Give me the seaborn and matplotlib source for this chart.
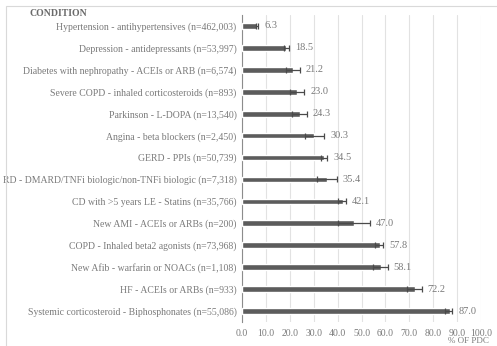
import matplotlib
matplotlib.use("Agg")
import matplotlib.pyplot as plt
from matplotlib.patches import Rectangle
import seaborn as sns
import pandas as pd
import numpy as np

conditions = [
    "Hypertension - antihypertensives (n=462,003)",
    "Depression - antidepressants (n=53,997)",
    "Diabetes with nephropathy - ACEIs or ARB (n=6,574)",
    "Severe COPD - inhaled corticosteroids (n=893)",
    "Parkinson - L-DOPA (n=13,540)",
    "Angina - beta blockers (n=2,450)",
    "GERD - PPIs (n=50,739)",
    "RD - DMARD/TNFi biologic/non-TNFi biologic (n=7,318)",
    "CD with >5 years LE - Statins (n=35,766)",
    "New AMI - ACEIs or ARBs (n=200)",
    "COPD - Inhaled beta2 agonists (n=73,968)",
    "New Afib - warfarin or NOACs (n=1,108)",
    "HF - ACEIs or ARBs (n=933)",
    "Systemic corticosteroid - Biphosphonates (n=55,086)",
]
pdc = [6.3, 18.5, 21.2, 23.0, 24.3, 30.3, 34.5, 35.4, 42.1, 47.0, 57.8, 58.1, 72.2, 87.0]
ci_low = [5.8, 17.4, 18.3, 20.0, 20.8, 26.4, 33.0, 31.3, 40.0, 40.2, 55.6, 55.0, 69.0, 85.0]
ci_high = [6.8, 19.7, 24.3, 26.0, 27.0, 34.4, 35.6, 39.6, 43.5, 53.6, 59.0, 61.0, 75.2, 88.0]
x_ticks = [0, 10, 20, 30, 40, 50, 60, 70, 80, 90, 100]

df = pd.DataFrame({"condition": conditions, "pdc": pdc})

sns.set_theme(style="white")
plt.rcParams["font.family"] = ["Liberation Serif", "DejaVu Serif"]

text_gray = "#7a7a7a"
bar_gray = "#5c5c5c"

fig = plt.figure(figsize=(4.97, 3.46), dpi=100)
ax = fig.add_axes([242 / 497, 1 - 322 / 346, (481 - 242) / 497, (322 - 15) / 346])

sns.barplot(data=df, x="pdc", y="condition", orient="h", color=bar_gray,
            saturation=1, width=0.26, ax=ax, zorder=3)

ypos = np.arange(len(conditions))
lo = np.array(pdc) - np.array(ci_low)
hi = np.array(ci_high) - np.array(pdc)
ax.errorbar(pdc, ypos, xerr=[lo, hi], fmt="none", ecolor="#4a4a4a",
            elinewidth=0.9, capsize=2.2, capthick=0.9, zorder=4)

for y, v, top in zip(ypos, pdc, ci_high):
    ax.text(top + 2.5, y, f"{v:.1f}", va="center", ha="left",
            fontsize=7.5, color=text_gray)

ax.set_xlim(0, 100)
ax.set_ylim(len(conditions) - 0.5, -0.5)
ax.set_xticks(x_ticks)
ax.set_xticklabels([f"{t:.1f}" for t in x_ticks], fontsize=7, color=text_gray)
ax.tick_params(axis="y", labelsize=7, labelcolor=text_gray, length=0, pad=4)
ax.tick_params(axis="x", length=0, pad=5)
ax.set_xlabel("")
ax.set_ylabel("")
ax.grid(axis="x", color="#e2e2e2", linewidth=0.8, zorder=0)
ax.set_axisbelow(True)
for side in ["top", "right", "bottom"]:
    ax.spines[side].set_visible(False)
ax.spines["left"].set_color("#8c8c8c")
ax.spines["left"].set_linewidth(0.8)

fig.text(30 / 497, 1 - 13 / 346, "CONDITION", fontsize=7, fontweight="bold",
         color="#6a6a6a", va="center", ha="left")
fig.text(448 / 497, 1 / 346, "% OF PDC", fontsize=6.5, color=text_gray,
         va="bottom", ha="left")

fig.patches.append(Rectangle((6 / 497, -0.05), 1.1, 1 - 6 / 346 + 0.05,
                             transform=fig.transFigure, fill=False,
                             edgecolor="#d9d9d9", linewidth=0.8))

fig.savefig("out.png", dpi=100)
